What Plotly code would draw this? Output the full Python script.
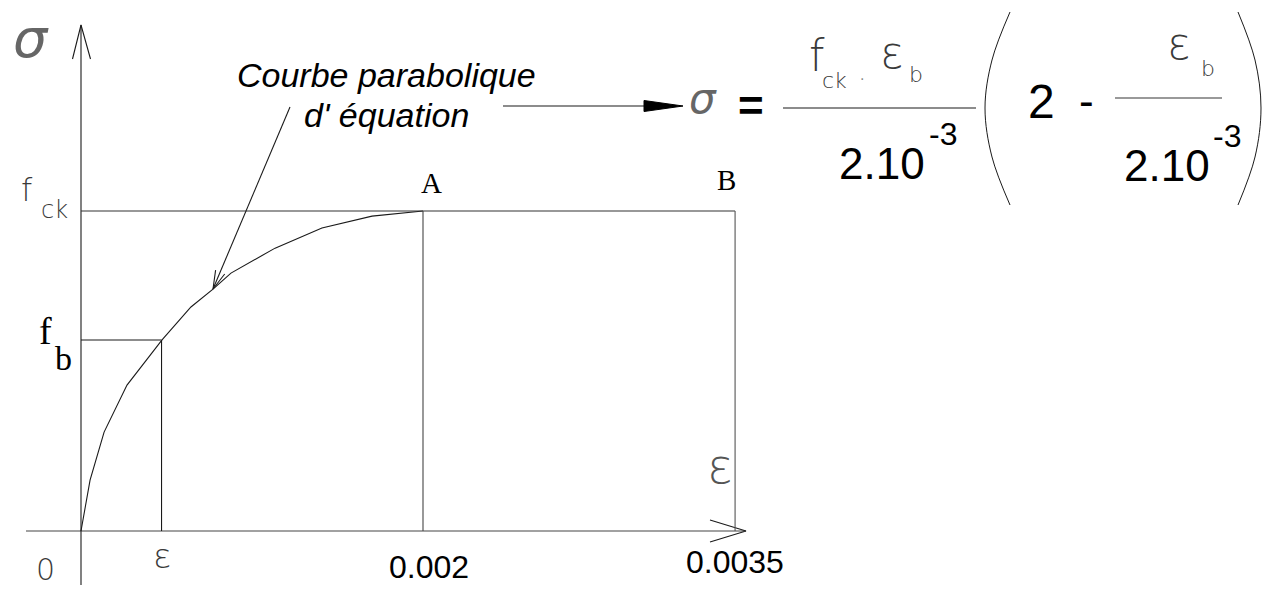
import plotly.graph_objects as go

# ---------------------------------------------------------------------------
# Parabola-rectangle stress/strain diagram for concrete (schematic)
# strain in per-mille (schematic spacing), stress as a fraction of f_ck
# ---------------------------------------------------------------------------
curve_strain = [0.000, 0.053, 0.135, 0.269, 0.474, 0.643, 0.772, 0.877, 1.135, 1.409, 1.702, 2.000]
curve_stress = [0.000, 0.159, 0.309, 0.456, 0.597, 0.700, 0.756, 0.806, 0.884, 0.947, 0.984, 1.000]

strain_b = 0.471        # point on the curve carrying f_b
stress_b = 0.597
strain_A = 2.0          # 0.002 : end of the parabola (point A)
strain_B = 3.825        # 0.0035 : ultimate strain (point B), schematic spacing
stress_ck = 1.0

tick_labels = ["0", "ε", "0.002", "0.0035"]

# ---------------------------------------------------------------------------
# pixel <-> data helpers (the canvas is 1272 x 589 with no margins)
W, H = 1272, 589
X0, XS = 81, 171      # origin column, pixels per unit of strain
Y0, YS = 531, 320     # origin row, pixels per unit of stress


def dx(p):
    return (p - X0) / XS


def dy(p):
    return (Y0 - p) / YS


INK = "#1a1a1a"
CAD = "DejaVu Sans"
CADC = "#3a3a3a"
SANS = "Liberation Sans"
SERIF = "Liberation Serif"

fig = go.Figure()


def seg(xs, ys, color=INK, width=1.1, shape="linear"):
    fig.add_trace(go.Scatter(x=xs, y=ys, mode="lines", hoverinfo="skip",
                             line=dict(color=color, width=width, shape=shape),
                             showlegend=False))


# axes
seg([dx(26), dx(746)], [0, 0], color="#444")
seg([0, 0], [dy(585), dy(25)])
# open arrowheads of the axes
seg([dx(710), dx(746), dx(710)], [dy(520), 0, dy(542)])
seg([dx(72.5), 0, dx(90.5)], [dy(59), dy(25), dy(59)])

# parabolic branch O -> A
seg(curve_strain, curve_stress)
# constant branch A -> B and the verticals
seg([0, strain_B], [stress_ck, stress_ck], color="#333")
seg([strain_A, strain_A], [0, stress_ck], color="#444")
seg([strain_B, strain_B], [0, stress_ck], color="#555")
# f_b construction lines
seg([0, strain_b], [stress_b, stress_b])
seg([strain_b, strain_b], [0, stress_b])

# leader from the caption to the curve
tip = (213, 289)
seg([dx(290), dx(tip[0])], [dy(107), dy(tip[1])])
seg([dx(224.7), dx(tip[0]), dx(215.6)], [dy(274), dy(tip[1]), dy(270.2)])

# caption arrow to the formula (filled head)
seg([dx(503), dx(648)], [dy(106), dy(106)])
fig.add_trace(go.Scatter(x=[dx(644), dx(683), dx(644), dx(644)],
                         y=[dy(100.5), dy(106), dy(111.5), dy(100.5)],
                         mode="lines", fill="toself", fillcolor="black",
                         line=dict(color="black", width=1), hoverinfo="skip",
                         showlegend=False))

# fraction bars
seg([dx(783), dx(976)], [dy(108), dy(108)])
seg([dx(1115), dx(1222)], [dy(98), dy(98)], color="#777", width=1.3)

# large brackets around (2 - eps_b / 2.10^-3)
seg([dx(1010), dx(992), dx(985), dx(992), dx(1010)],
    [dy(12), dy(60), dy(108), dy(157), dy(205)], shape="spline", width=1)
seg([dx(1238), dx(1255), dx(1261), dx(1255), dx(1238)],
    [dy(12), dy(60), dy(108), dy(157), dy(205)], shape="spline", width=1)


ann = []


def label(text, x, y, size, family=SANS, color="black", weight=None,
          style=None, xanchor="center", yanchor="middle"):
    f = dict(size=size, family=family, color=color)
    if weight is not None:
        f["weight"] = weight
    if style is not None:
        f["style"] = style
    ann.append(dict(text=text, x=dx(x), y=dy(y), xref="x", yref="y",
                    showarrow=False, font=f, xanchor=xanchor, yanchor=yanchor))


# axis titles
label("σ", 31, 38, 54, CAD, "#666", 200, "italic")
label("ε", 720, 466, 48, CAD, "#555", 200)

# strain labels under the axis
label(tick_labels[0], 45, 569, 30, CAD, CADC, 200)
label(tick_labels[1], strain_b * XS + X0, 556, 34, CAD, CADC, 200)
label(tick_labels[2], strain_A * XS + X0 + 6, 567, 32, SANS)
label(tick_labels[3], strain_B * XS + X0, 562, 32, SANS)

# stress labels
label("f", 27, 190, 32, CAD, CADC, 200)
label("ck", 54, 210, 24, CAD, CADC, 200)
label("f", 45, 331, 38, SERIF)
label("b", 63, 358, 34, SERIF)

# point names
label("A", 431, 183, 29, SERIF)
label("B", 726, 180, 29, SERIF)

# caption
label("Courbe parabolique", 386, 75, 34, SANS, style="italic")
label("d' équation", 386, 115, 34, SANS, style="italic")

# formula
label("σ", 703, 98, 42, CAD, "#666", 200, "italic")
label("=", 751, 105, 44, SANS, weight="bold")
label("f", 817, 55, 44, CAD, CADC, 200)
label("ck", 834, 80, 22, CAD, CADC, 200)
label("·", 862, 79, 14, CAD, "#888")
label("ε", 892, 52, 44, CAD, CADC, 200)
label("b", 916, 74, 22, CAD, CADC, 200)
label("2.10", 882, 163, 44, SANS)
label("-3", 943, 134, 32, SANS)
label("2", 1041, 101, 48, SANS)
label("-", 1086, 100, 44, SANS)
label("ε", 1179, 43, 44, CAD, CADC, 200)
label("b", 1208, 68, 22, CAD, CADC, 200)
label("2.10", 1167, 165, 44, SANS)
label("-3", 1227, 136, 32, SANS)

fig.update_layout(
    width=W, height=H,
    margin=dict(l=0, r=0, t=0, b=0),
    paper_bgcolor="white", plot_bgcolor="white",
    xaxis=dict(range=[dx(0), dx(W)], visible=False, fixedrange=True),
    yaxis=dict(range=[dy(H), dy(0)], visible=False, fixedrange=True),
    annotations=ann,
    showlegend=False,
)

fig.write_html("out.html", config={"displayModeBar": False})
